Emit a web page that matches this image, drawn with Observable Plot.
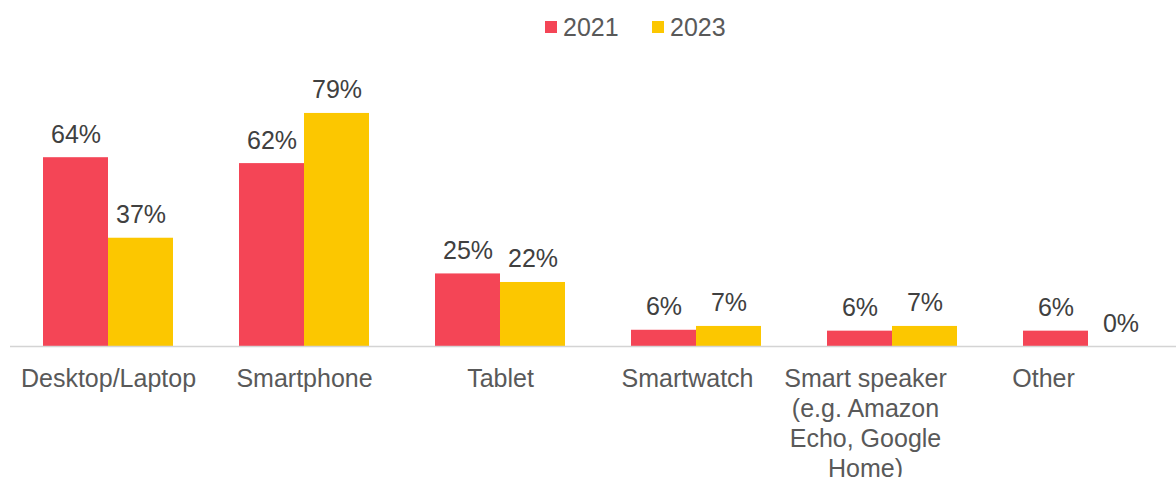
<!DOCTYPE html>
<html>
<head>
<meta charset="utf-8">
<script src="https://cdn.jsdelivr.net/npm/d3@7"></script>
<script src="https://cdn.jsdelivr.net/npm/@observablehq/plot@0.6"></script>
<style>
  html, body { margin: 0; padding: 0; background: #fff; overflow: hidden; }
  body { width: 1176px; height: 477px; font-family: "Liberation Sans", Arial, sans-serif; }
  #legend { position: relative; height: 55px; }
  .sw { position: absolute; width: 12px; height: 12px; top: 21px; }
  .lt { position: absolute; top: 13px; font-size: 25px; line-height: 28px; color: #595959; }
  svg { display: block; }
</style>
</head>
<body>
<div id="legend"></div>
<div id="chart"></div>
<script>
// ---- data ----
const categories = ["Desktop/Laptop", "Smartphone", "Tablet", "Smartwatch", "Smart speaker (e.g. Amazon Echo, Google Home)", "Other"];
const tickLabels = ["Desktop/Laptop", "Smartphone", "Tablet", "Smartwatch", "Smart speaker\n(e.g. Amazon\nEcho, Google\nHome)", "Other"];
const years = ["2021", "2023"];
const values2021 = [64, 62, 24.6, 5.5, 5.2, 5.2];
const values2023 = [36.7, 79, 21.7, 6.8, 6.8, 0];
const labels2021 = ["64%", "62%", "25%", "6%", "6%", "6%"];
const labels2023 = ["37%", "79%", "22%", "7%", "7%", "0%"];

// ---- layout constants ----
const colors = ["#F44556", "#FCC700"];
const labelShift = [0, 0, 0, -9, -27, -45];

const rows = [];
categories.forEach((c, i) => {
  rows.push({category: c, year: years[0], value: values2021[i], label: labels2021[i]});
  rows.push({category: c, year: years[1], value: values2023[i], label: labels2023[i]});
});

// legend
const legend = document.getElementById("legend");
const legendPos = [{sw: 545, tx: 563}, {sw: 652, tx: 670}];
years.forEach((y, i) => {
  const s = document.createElement("div");
  s.className = "sw"; s.style.left = legendPos[i].sw + "px"; s.style.background = colors[i];
  const t = document.createElement("div");
  t.className = "lt"; t.style.left = legendPos[i].tx + "px"; t.textContent = y;
  legend.appendChild(s); legend.appendChild(t);
});

const chart = Plot.plot({
  width: 1176,
  height: 422,
  marginLeft: 10,
  marginRight: -10,
  marginTop: 55,
  marginBottom: 131,
  style: {fontFamily: "'Liberation Sans', Arial, sans-serif", background: "#fff", overflow: "hidden"},
  fx: {domain: categories, paddingInner: 0.337, paddingOuter: 0.168, axis: null, label: null},
  x: {domain: years, padding: 0, axis: null},
  y: {domain: [0, 80], axis: null},
  color: {domain: years, range: colors},
  marks: [
    Plot.barY(rows, {fx: "category", x: "year", y: "value", fill: "year"}),
    Plot.ruleY([0], {stroke: "#D4D4D4", strokeWidth: 1.5, insetLeft: -33, insetRight: -33}),
    Plot.text(rows, {fx: "category", x: "year", y: "value", text: "label", lineAnchor: "bottom", dy: -15, fontSize: 25, fill: "#404040"}),
    ...categories.map((c, i) => Plot.text([c], {
      fx: d => d,
      text: d => tickLabels[categories.indexOf(d)],
      frameAnchor: "bottom",
      lineAnchor: "top",
      lineHeight: 1.2,
      dy: 19,
      dx: labelShift[i],
      fontSize: 25,
      fill: "#595959"
    }))
  ]
});
document.getElementById("chart").appendChild(chart);
</script>
</body>
</html>
